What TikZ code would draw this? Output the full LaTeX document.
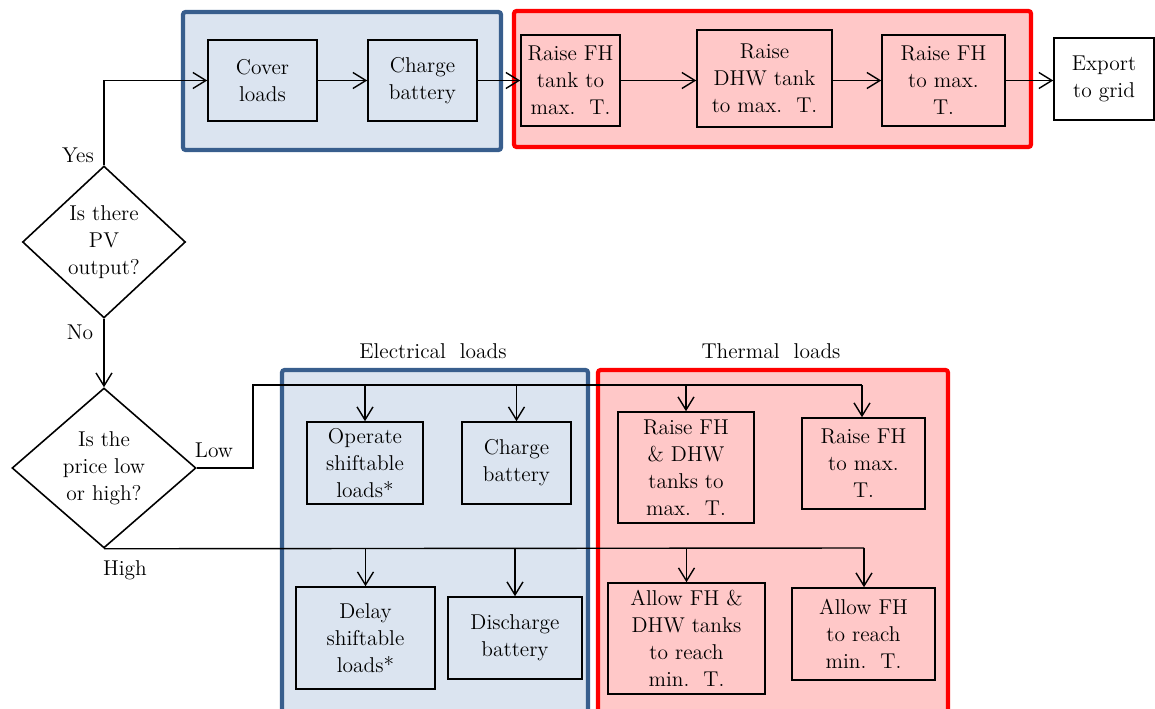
\documentclass[tikz,border=0pt]{standalone}
\usepackage{xcolor}
\usetikzlibrary{shapes.geometric,arrows.meta}

\definecolor{grpblue}{RGB}{56,94,141}
\definecolor{fillblue}{RGB}{219,228,240}
\definecolor{grpred}{RGB}{255,0,0}
\definecolor{fillred}{RGB}{255,200,200}

\begin{document}
\begin{tikzpicture}[x=0.02cm,y=-0.02cm,
    font=\fontsize{12.2}{15.3}\selectfont,
    box/.style={draw, rectangle, line width=0.9pt, align=center, inner sep=1pt},
    decision/.style={draw, diamond, line width=0.9pt, align=center, inner sep=0pt},
    bluegrp/.style={draw=grpblue, fill=fillblue, line width=2.4pt, rounded corners=1.5pt},
    redgrp/.style={draw=grpred, fill=fillred, line width=2.4pt, rounded corners=1.5pt},
    arr/.style={-{Straight Barb[length=2.6mm,width=3.2mm]}, line width=0.8pt},
    wire/.style={line width=0.8pt}]
    \clip (0,0) rectangle (1155,709);

    % Group frames
    \draw[bluegrp] (183,12) rectangle (501,150);
    \draw[redgrp] (514,11) rectangle (1031,147);
    \draw[bluegrp] (282,370) rectangle (588,730);
    \draw[redgrp] (598,370) rectangle (948,730);

    % Group titles
    \node (eltitle) at (433,351) {Electrical\ \ loads};
    \node (thtitle) at (771,351) {Thermal\ \ loads};

    % PV question
    \node[decision, minimum width=3.26cm, minimum height=3.04cm] (pvq) at (104,242) {Is there\\PV\\output?};

    % Price question
    \node[decision, minimum width=3.68cm, minimum height=3.2cm] (priceq) at (104,468) {Is the\\price low\\or high?};

    % PV surplus chain
    \node[box, minimum width=2.18cm, minimum height=1.62cm] (cover) at (262.5,80.5) {Cover\\loads};
    \node[box, minimum width=2.18cm, minimum height=1.62cm] (chgtop) at (422.5,80.5) {Charge\\battery};
    \node[box, minimum width=1.98cm, minimum height=1.82cm] (fhtank) at (570.5,80.5) {Raise FH\\tank to\\max.\ \ T.};
    \node[box, minimum width=2.70cm, minimum height=1.94cm] (dhwtank) at (764.5,78.5) {Raise\\DHW tank\\to max.\ \ T.};
    \node[box, minimum width=2.46cm, minimum height=1.82cm] (fhtop) at (943.5,80.5) {Raise FH\\to max.\\T.};
    \node[box, fill=white, minimum width=2.00cm, minimum height=1.64cm] (export) at (1104,79) {Export\\to grid};

    % Low price actions
    \node[box, minimum width=2.32cm, minimum height=1.64cm] (operate) at (365,463) {Operate\\shiftable\\loads*};
    \node[box, minimum width=2.18cm, minimum height=1.64cm] (chglow) at (516.5,463) {Charge\\battery};
    \node[box, minimum width=2.72cm, minimum height=2.22cm] (raiseboth) at (686,467.5) {Raise FH\\\& DHW\\tanks to\\max.\ \ T.};
    \node[box, minimum width=2.46cm, minimum height=1.82cm] (raisefh) at (863.5,463.5) {Raise FH\\to max.\\T.};

    % High price actions
    \node[box, minimum width=2.78cm, minimum height=2.04cm] (delay) at (365.5,638) {Delay\\shiftable\\loads*};
    \node[box, minimum width=2.68cm, minimum height=1.64cm] (dischg) at (515,638) {Discharge\\battery};
    \node[box, minimum width=3.14cm, minimum height=2.22cm] (allowboth) at (686.5,638.5) {Allow FH \&\\DHW tanks\\to reach\\min.\ \ T.};
    \node[box, minimum width=2.86cm, minimum height=1.84cm] (allowfh) at (863.5,634) {Allow FH\\to reach\\min.\ \ T.};

    % Bus points
    \coordinate (lowbend) at (253,385);
    \coordinate (lowend) at (862,385);
    \coordinate (highend) at (864,548);

    % Connections
    \draw[arr] (pvq.north) |- (cover.west);
    \draw[arr] (cover) -- (chgtop);
    \draw[arr] (chgtop) -- (fhtank);
    \draw[arr] (fhtank.east) -- (fhtank.east -| dhwtank.west);
    \draw[arr] (dhwtank.east |- fhtop.west) -- (fhtop.west);
    \draw[arr] (fhtop.east) -- (fhtop.east -| export.west);
    \draw[arr] (pvq.south) -- (priceq.north);

    \draw[wire] (priceq.east) -| (lowbend) -- (lowend);
    \draw[arr] (operate.north |- lowbend) -- (operate.north);
    \draw[arr] (chglow.north |- lowbend) -- (chglow.north);
    \draw[arr] (raiseboth.north |- lowbend) -- (raiseboth.north);
    \draw[arr] (lowend) -- (lowend |- raisefh.north);

    \draw[wire] (priceq.south) -- (highend);
    \draw[arr] (delay.north |- highend) -- (delay.north);
    \draw[arr] (dischg.north |- highend) -- (dischg.north);
    \draw[arr] (allowboth.north |- highend) -- (allowboth.north);
    \draw[arr] (highend) -- (highend |- allowfh.north);

    % Labels
    \node (yes) at (78,155) {Yes};
    \node (no) at (80,332) {No};
    \node (low) at (214,450) {Low};
    \node (high) at (125,570) {High};

\end{tikzpicture}
\end{document}
